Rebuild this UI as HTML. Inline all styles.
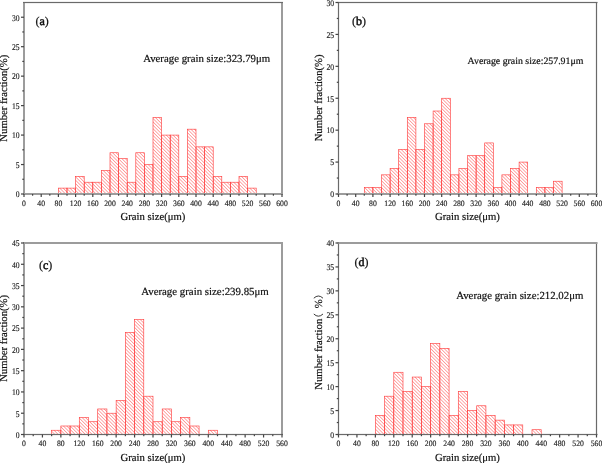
<!DOCTYPE html><html><head><meta charset="utf-8"><style>html,body{margin:0;padding:0;background:#fff;width:602px;height:463px;overflow:hidden}svg{display:block;will-change:transform}text{font-family:"Liberation Serif",serif;text-rendering:geometricPrecision}.m{stroke:#111;stroke-width:0.2px}.t{stroke:#222;stroke-width:0.15px}</style></head><body>
<svg width="602" height="463" viewBox="0 0 602 463">
<defs><pattern id="h" patternUnits="userSpaceOnUse" width="2.4" height="2.4" patternTransform="rotate(-45)"><rect x="0" y="0" width="0.66" height="2.4" fill="#ff8080"/></pattern></defs>
<rect width="602" height="463" fill="#fff"/>
<g><rect x="58.4" y="188.11" width="8.6" height="5.89" fill="url(#h)" stroke="#ff3838" stroke-width="0.62"/><rect x="67" y="188.11" width="8.6" height="5.89" fill="url(#h)" stroke="#ff3838" stroke-width="0.62"/><rect x="75.6" y="176.32" width="8.6" height="17.68" fill="url(#h)" stroke="#ff3838" stroke-width="0.62"/><rect x="84.2" y="182.22" width="8.6" height="11.78" fill="url(#h)" stroke="#ff3838" stroke-width="0.62"/><rect x="92.8" y="182.22" width="8.6" height="11.78" fill="url(#h)" stroke="#ff3838" stroke-width="0.62"/><rect x="101.4" y="170.43" width="8.6" height="23.57" fill="url(#h)" stroke="#ff3838" stroke-width="0.62"/><rect x="110" y="152.75" width="8.6" height="41.25" fill="url(#h)" stroke="#ff3838" stroke-width="0.62"/><rect x="118.6" y="158.65" width="8.6" height="35.35" fill="url(#h)" stroke="#ff3838" stroke-width="0.62"/><rect x="127.2" y="182.22" width="8.6" height="11.78" fill="url(#h)" stroke="#ff3838" stroke-width="0.62"/><rect x="135.8" y="152.75" width="8.6" height="41.25" fill="url(#h)" stroke="#ff3838" stroke-width="0.62"/><rect x="144.4" y="164.54" width="8.6" height="29.46" fill="url(#h)" stroke="#ff3838" stroke-width="0.62"/><rect x="153" y="117.4" width="8.6" height="76.6" fill="url(#h)" stroke="#ff3838" stroke-width="0.62"/><rect x="161.6" y="135.08" width="8.6" height="58.92" fill="url(#h)" stroke="#ff3838" stroke-width="0.62"/><rect x="170.2" y="135.08" width="8.6" height="58.92" fill="url(#h)" stroke="#ff3838" stroke-width="0.62"/><rect x="178.8" y="176.32" width="8.6" height="17.68" fill="url(#h)" stroke="#ff3838" stroke-width="0.62"/><rect x="187.4" y="129.18" width="8.6" height="64.82" fill="url(#h)" stroke="#ff3838" stroke-width="0.62"/><rect x="196" y="146.86" width="8.6" height="47.14" fill="url(#h)" stroke="#ff3838" stroke-width="0.62"/><rect x="204.6" y="146.86" width="8.6" height="47.14" fill="url(#h)" stroke="#ff3838" stroke-width="0.62"/><rect x="213.2" y="176.32" width="8.6" height="17.68" fill="url(#h)" stroke="#ff3838" stroke-width="0.62"/><rect x="221.8" y="182.22" width="8.6" height="11.78" fill="url(#h)" stroke="#ff3838" stroke-width="0.62"/><rect x="230.4" y="182.22" width="8.6" height="11.78" fill="url(#h)" stroke="#ff3838" stroke-width="0.62"/><rect x="239" y="176.32" width="8.6" height="17.68" fill="url(#h)" stroke="#ff3838" stroke-width="0.62"/><rect x="247.6" y="188.11" width="8.6" height="5.89" fill="url(#h)" stroke="#ff3838" stroke-width="0.62"/><rect x="23" y="2" width="2" height="192.5" fill="#9c9c9c"/><rect x="281" y="2" width="2" height="192.5" fill="#9c9c9c"/><rect x="23" y="1.9" width="260" height="1.2" fill="#6a6a6a"/><rect x="23" y="193" width="260" height="2" fill="#9c9c9c"/><rect x="23.4" y="194" width="1.2" height="3" fill="#444"/><text transform="translate(24,206.1) scale(0.94,1)" font-size="8.2" text-anchor="middle" fill="#222" class="t">0</text><rect x="32" y="194" width="1.2" height="1.7" fill="#444"/><rect x="40.6" y="194" width="1.2" height="3" fill="#444"/><text transform="translate(41.2,206.1) scale(0.94,1)" font-size="8.2" text-anchor="middle" fill="#222" class="t">40</text><rect x="49.2" y="194" width="1.2" height="1.7" fill="#444"/><rect x="57.8" y="194" width="1.2" height="3" fill="#444"/><text transform="translate(58.4,206.1) scale(0.94,1)" font-size="8.2" text-anchor="middle" fill="#222" class="t">80</text><rect x="66.4" y="194" width="1.2" height="1.7" fill="#444"/><rect x="75" y="194" width="1.2" height="3" fill="#444"/><text transform="translate(75.6,206.1) scale(0.94,1)" font-size="8.2" text-anchor="middle" fill="#222" class="t">120</text><rect x="83.6" y="194" width="1.2" height="1.7" fill="#444"/><rect x="92.2" y="194" width="1.2" height="3" fill="#444"/><text transform="translate(92.8,206.1) scale(0.94,1)" font-size="8.2" text-anchor="middle" fill="#222" class="t">160</text><rect x="100.8" y="194" width="1.2" height="1.7" fill="#444"/><rect x="109.4" y="194" width="1.2" height="3" fill="#444"/><text transform="translate(110,206.1) scale(0.94,1)" font-size="8.2" text-anchor="middle" fill="#222" class="t">200</text><rect x="118" y="194" width="1.2" height="1.7" fill="#444"/><rect x="126.6" y="194" width="1.2" height="3" fill="#444"/><text transform="translate(127.2,206.1) scale(0.94,1)" font-size="8.2" text-anchor="middle" fill="#222" class="t">240</text><rect x="135.2" y="194" width="1.2" height="1.7" fill="#444"/><rect x="143.8" y="194" width="1.2" height="3" fill="#444"/><text transform="translate(144.4,206.1) scale(0.94,1)" font-size="8.2" text-anchor="middle" fill="#222" class="t">280</text><rect x="152.4" y="194" width="1.2" height="1.7" fill="#444"/><rect x="161" y="194" width="1.2" height="3" fill="#444"/><text transform="translate(161.6,206.1) scale(0.94,1)" font-size="8.2" text-anchor="middle" fill="#222" class="t">320</text><rect x="169.6" y="194" width="1.2" height="1.7" fill="#444"/><rect x="178.2" y="194" width="1.2" height="3" fill="#444"/><text transform="translate(178.8,206.1) scale(0.94,1)" font-size="8.2" text-anchor="middle" fill="#222" class="t">360</text><rect x="186.8" y="194" width="1.2" height="1.7" fill="#444"/><rect x="195.4" y="194" width="1.2" height="3" fill="#444"/><text transform="translate(196,206.1) scale(0.94,1)" font-size="8.2" text-anchor="middle" fill="#222" class="t">400</text><rect x="204" y="194" width="1.2" height="1.7" fill="#444"/><rect x="212.6" y="194" width="1.2" height="3" fill="#444"/><text transform="translate(213.2,206.1) scale(0.94,1)" font-size="8.2" text-anchor="middle" fill="#222" class="t">440</text><rect x="221.2" y="194" width="1.2" height="1.7" fill="#444"/><rect x="229.8" y="194" width="1.2" height="3" fill="#444"/><text transform="translate(230.4,206.1) scale(0.94,1)" font-size="8.2" text-anchor="middle" fill="#222" class="t">480</text><rect x="238.4" y="194" width="1.2" height="1.7" fill="#444"/><rect x="247" y="194" width="1.2" height="3" fill="#444"/><text transform="translate(247.6,206.1) scale(0.94,1)" font-size="8.2" text-anchor="middle" fill="#222" class="t">520</text><rect x="255.6" y="194" width="1.2" height="1.7" fill="#444"/><rect x="264.2" y="194" width="1.2" height="3" fill="#444"/><text transform="translate(264.8,206.1) scale(0.94,1)" font-size="8.2" text-anchor="middle" fill="#222" class="t">560</text><rect x="272.8" y="194" width="1.2" height="1.7" fill="#444"/><rect x="281.4" y="194" width="1.2" height="3" fill="#444"/><text transform="translate(282,206.1) scale(0.94,1)" font-size="8.2" text-anchor="middle" fill="#222" class="t">600</text><rect x="21" y="193.4" width="3" height="1.2" fill="#444"/><text transform="translate(19.6,197.3) scale(0.88,1)" font-size="8.7" text-anchor="end" fill="#222" class="t">0</text><rect x="22.3" y="178.67" width="1.7" height="1.2" fill="#444"/><rect x="21" y="163.94" width="3" height="1.2" fill="#444"/><text transform="translate(19.6,167.84) scale(0.88,1)" font-size="8.7" text-anchor="end" fill="#222" class="t">5</text><rect x="22.3" y="149.21" width="1.7" height="1.2" fill="#444"/><rect x="21" y="134.48" width="3" height="1.2" fill="#444"/><text transform="translate(19.6,138.38) scale(0.88,1)" font-size="8.7" text-anchor="end" fill="#222" class="t">10</text><rect x="22.3" y="119.75" width="1.7" height="1.2" fill="#444"/><rect x="21" y="105.02" width="3" height="1.2" fill="#444"/><text transform="translate(19.6,108.92) scale(0.88,1)" font-size="8.7" text-anchor="end" fill="#222" class="t">15</text><rect x="22.3" y="90.28" width="1.7" height="1.2" fill="#444"/><rect x="21" y="75.55" width="3" height="1.2" fill="#444"/><text transform="translate(19.6,79.45) scale(0.88,1)" font-size="8.7" text-anchor="end" fill="#222" class="t">20</text><rect x="22.3" y="60.82" width="1.7" height="1.2" fill="#444"/><rect x="21" y="46.09" width="3" height="1.2" fill="#444"/><text transform="translate(19.6,49.99) scale(0.88,1)" font-size="8.7" text-anchor="end" fill="#222" class="t">25</text><rect x="22.3" y="31.36" width="1.7" height="1.2" fill="#444"/><rect x="21" y="16.63" width="3" height="1.2" fill="#444"/><text transform="translate(19.6,20.53) scale(0.88,1)" font-size="8.7" text-anchor="end" fill="#222" class="t">30</text><text x="35.5" y="24.75" font-size="12" fill="#111" class="m">(<tspan style="stroke-width:0.5px">a</tspan>)</text><text x="143.2" y="61.5" font-size="10.8" fill="#111" class="m">Average grain size:323.79μm</text><text x="153" y="220.1" font-size="10.7" text-anchor="middle" fill="#111" class="m">Grain size(μm)</text><text transform="translate(6.9,98.2) rotate(-90)" x="0" y="0" font-size="10.7" text-anchor="middle" fill="#111" class="m">Number fraction(%)</text></g>
<g><rect x="364.3" y="187.62" width="8.6" height="6.38" fill="url(#h)" stroke="#ff3838" stroke-width="0.62"/><rect x="372.9" y="187.62" width="8.6" height="6.38" fill="url(#h)" stroke="#ff3838" stroke-width="0.62"/><rect x="381.5" y="174.85" width="8.6" height="19.15" fill="url(#h)" stroke="#ff3838" stroke-width="0.62"/><rect x="390.1" y="168.47" width="8.6" height="25.53" fill="url(#h)" stroke="#ff3838" stroke-width="0.62"/><rect x="398.7" y="149.32" width="8.6" height="44.68" fill="url(#h)" stroke="#ff3838" stroke-width="0.62"/><rect x="407.3" y="117.4" width="8.6" height="76.6" fill="url(#h)" stroke="#ff3838" stroke-width="0.62"/><rect x="415.9" y="149.32" width="8.6" height="44.68" fill="url(#h)" stroke="#ff3838" stroke-width="0.62"/><rect x="424.5" y="123.78" width="8.6" height="70.22" fill="url(#h)" stroke="#ff3838" stroke-width="0.62"/><rect x="433.1" y="111.02" width="8.6" height="82.98" fill="url(#h)" stroke="#ff3838" stroke-width="0.62"/><rect x="441.7" y="98.25" width="8.6" height="95.75" fill="url(#h)" stroke="#ff3838" stroke-width="0.62"/><rect x="450.3" y="174.85" width="8.6" height="19.15" fill="url(#h)" stroke="#ff3838" stroke-width="0.62"/><rect x="458.9" y="168.47" width="8.6" height="25.53" fill="url(#h)" stroke="#ff3838" stroke-width="0.62"/><rect x="467.5" y="155.7" width="8.6" height="38.3" fill="url(#h)" stroke="#ff3838" stroke-width="0.62"/><rect x="476.1" y="155.7" width="8.6" height="38.3" fill="url(#h)" stroke="#ff3838" stroke-width="0.62"/><rect x="484.7" y="142.93" width="8.6" height="51.07" fill="url(#h)" stroke="#ff3838" stroke-width="0.62"/><rect x="493.3" y="187.62" width="8.6" height="6.38" fill="url(#h)" stroke="#ff3838" stroke-width="0.62"/><rect x="501.9" y="174.85" width="8.6" height="19.15" fill="url(#h)" stroke="#ff3838" stroke-width="0.62"/><rect x="510.5" y="168.47" width="8.6" height="25.53" fill="url(#h)" stroke="#ff3838" stroke-width="0.62"/><rect x="519.1" y="162.08" width="8.6" height="31.92" fill="url(#h)" stroke="#ff3838" stroke-width="0.62"/><rect x="536.3" y="187.62" width="8.6" height="6.38" fill="url(#h)" stroke="#ff3838" stroke-width="0.62"/><rect x="544.9" y="187.62" width="8.6" height="6.38" fill="url(#h)" stroke="#ff3838" stroke-width="0.62"/><rect x="553.5" y="181.23" width="8.6" height="12.77" fill="url(#h)" stroke="#ff3838" stroke-width="0.62"/><rect x="337.9" y="2" width="1.2" height="192.5" fill="#6a6a6a"/><rect x="595.9" y="2" width="1.2" height="192.5" fill="#6a6a6a"/><rect x="337.5" y="1.9" width="260" height="1.2" fill="#6a6a6a"/><rect x="337.5" y="193" width="260" height="2" fill="#9c9c9c"/><rect x="337.9" y="194" width="1.2" height="3" fill="#444"/><text transform="translate(338.5,206.1) scale(0.94,1)" font-size="8.2" text-anchor="middle" fill="#222" class="t">0</text><rect x="346.5" y="194" width="1.2" height="1.7" fill="#444"/><rect x="355.1" y="194" width="1.2" height="3" fill="#444"/><text transform="translate(355.7,206.1) scale(0.94,1)" font-size="8.2" text-anchor="middle" fill="#222" class="t">40</text><rect x="363.7" y="194" width="1.2" height="1.7" fill="#444"/><rect x="372.3" y="194" width="1.2" height="3" fill="#444"/><text transform="translate(372.9,206.1) scale(0.94,1)" font-size="8.2" text-anchor="middle" fill="#222" class="t">80</text><rect x="380.9" y="194" width="1.2" height="1.7" fill="#444"/><rect x="389.5" y="194" width="1.2" height="3" fill="#444"/><text transform="translate(390.1,206.1) scale(0.94,1)" font-size="8.2" text-anchor="middle" fill="#222" class="t">120</text><rect x="398.1" y="194" width="1.2" height="1.7" fill="#444"/><rect x="406.7" y="194" width="1.2" height="3" fill="#444"/><text transform="translate(407.3,206.1) scale(0.94,1)" font-size="8.2" text-anchor="middle" fill="#222" class="t">160</text><rect x="415.3" y="194" width="1.2" height="1.7" fill="#444"/><rect x="423.9" y="194" width="1.2" height="3" fill="#444"/><text transform="translate(424.5,206.1) scale(0.94,1)" font-size="8.2" text-anchor="middle" fill="#222" class="t">200</text><rect x="432.5" y="194" width="1.2" height="1.7" fill="#444"/><rect x="441.1" y="194" width="1.2" height="3" fill="#444"/><text transform="translate(441.7,206.1) scale(0.94,1)" font-size="8.2" text-anchor="middle" fill="#222" class="t">240</text><rect x="449.7" y="194" width="1.2" height="1.7" fill="#444"/><rect x="458.3" y="194" width="1.2" height="3" fill="#444"/><text transform="translate(458.9,206.1) scale(0.94,1)" font-size="8.2" text-anchor="middle" fill="#222" class="t">280</text><rect x="466.9" y="194" width="1.2" height="1.7" fill="#444"/><rect x="475.5" y="194" width="1.2" height="3" fill="#444"/><text transform="translate(476.1,206.1) scale(0.94,1)" font-size="8.2" text-anchor="middle" fill="#222" class="t">320</text><rect x="484.1" y="194" width="1.2" height="1.7" fill="#444"/><rect x="492.7" y="194" width="1.2" height="3" fill="#444"/><text transform="translate(493.3,206.1) scale(0.94,1)" font-size="8.2" text-anchor="middle" fill="#222" class="t">360</text><rect x="501.3" y="194" width="1.2" height="1.7" fill="#444"/><rect x="509.9" y="194" width="1.2" height="3" fill="#444"/><text transform="translate(510.5,206.1) scale(0.94,1)" font-size="8.2" text-anchor="middle" fill="#222" class="t">400</text><rect x="518.5" y="194" width="1.2" height="1.7" fill="#444"/><rect x="527.1" y="194" width="1.2" height="3" fill="#444"/><text transform="translate(527.7,206.1) scale(0.94,1)" font-size="8.2" text-anchor="middle" fill="#222" class="t">440</text><rect x="535.7" y="194" width="1.2" height="1.7" fill="#444"/><rect x="544.3" y="194" width="1.2" height="3" fill="#444"/><text transform="translate(544.9,206.1) scale(0.94,1)" font-size="8.2" text-anchor="middle" fill="#222" class="t">480</text><rect x="552.9" y="194" width="1.2" height="1.7" fill="#444"/><rect x="561.5" y="194" width="1.2" height="3" fill="#444"/><text transform="translate(562.1,206.1) scale(0.94,1)" font-size="8.2" text-anchor="middle" fill="#222" class="t">520</text><rect x="570.1" y="194" width="1.2" height="1.7" fill="#444"/><rect x="578.7" y="194" width="1.2" height="3" fill="#444"/><text transform="translate(579.3,206.1) scale(0.94,1)" font-size="8.2" text-anchor="middle" fill="#222" class="t">560</text><rect x="587.3" y="194" width="1.2" height="1.7" fill="#444"/><rect x="595.9" y="194" width="1.2" height="3" fill="#444"/><text transform="translate(596.5,206.1) scale(0.94,1)" font-size="8.2" text-anchor="middle" fill="#222" class="t">600</text><rect x="335.5" y="193.4" width="3" height="1.2" fill="#444"/><text transform="translate(334.1,197.3) scale(0.88,1)" font-size="8.7" text-anchor="end" fill="#222" class="t">0</text><rect x="336.8" y="177.44" width="1.7" height="1.2" fill="#444"/><rect x="335.5" y="161.48" width="3" height="1.2" fill="#444"/><text transform="translate(334.1,165.38) scale(0.88,1)" font-size="8.7" text-anchor="end" fill="#222" class="t">5</text><rect x="336.8" y="145.53" width="1.7" height="1.2" fill="#444"/><rect x="335.5" y="129.57" width="3" height="1.2" fill="#444"/><text transform="translate(334.1,133.47) scale(0.88,1)" font-size="8.7" text-anchor="end" fill="#222" class="t">10</text><rect x="336.8" y="113.61" width="1.7" height="1.2" fill="#444"/><rect x="335.5" y="97.65" width="3" height="1.2" fill="#444"/><text transform="translate(334.1,101.55) scale(0.88,1)" font-size="8.7" text-anchor="end" fill="#222" class="t">15</text><rect x="336.8" y="81.69" width="1.7" height="1.2" fill="#444"/><rect x="335.5" y="65.73" width="3" height="1.2" fill="#444"/><text transform="translate(334.1,69.63) scale(0.88,1)" font-size="8.7" text-anchor="end" fill="#222" class="t">20</text><rect x="336.8" y="49.77" width="1.7" height="1.2" fill="#444"/><rect x="335.5" y="33.82" width="3" height="1.2" fill="#444"/><text transform="translate(334.1,37.72) scale(0.88,1)" font-size="8.7" text-anchor="end" fill="#222" class="t">25</text><rect x="336.8" y="17.86" width="1.7" height="1.2" fill="#444"/><rect x="335.5" y="1.9" width="3" height="1.2" fill="#444"/><text transform="translate(334.1,5.8) scale(0.88,1)" font-size="8.7" text-anchor="end" fill="#222" class="t">30</text><text x="352" y="24.75" font-size="12" fill="#111" class="m">(<tspan style="stroke-width:0.5px">b</tspan>)</text><text x="467.6" y="63.7" font-size="9.86" fill="#111" class="m">Average grain size:257.91μm</text><text x="467.5" y="219.7" font-size="10.7" text-anchor="middle" fill="#111" class="m">Grain size(μm)</text><text transform="translate(321.6,97.9) rotate(-90)" x="0" y="0" font-size="10.7" text-anchor="middle" fill="#111" class="m">Number fraction(%)</text></g>
<g><rect x="51.64" y="430.24" width="9.21" height="4.26" fill="url(#h)" stroke="#ff3838" stroke-width="0.62"/><rect x="60.86" y="425.99" width="9.21" height="8.51" fill="url(#h)" stroke="#ff3838" stroke-width="0.62"/><rect x="70.07" y="425.99" width="9.21" height="8.51" fill="url(#h)" stroke="#ff3838" stroke-width="0.62"/><rect x="79.29" y="417.48" width="9.21" height="17.02" fill="url(#h)" stroke="#ff3838" stroke-width="0.62"/><rect x="88.5" y="421.73" width="9.21" height="12.77" fill="url(#h)" stroke="#ff3838" stroke-width="0.62"/><rect x="97.71" y="408.97" width="9.21" height="25.53" fill="url(#h)" stroke="#ff3838" stroke-width="0.62"/><rect x="106.93" y="413.22" width="9.21" height="21.28" fill="url(#h)" stroke="#ff3838" stroke-width="0.62"/><rect x="116.14" y="400.46" width="9.21" height="34.04" fill="url(#h)" stroke="#ff3838" stroke-width="0.62"/><rect x="125.36" y="332.37" width="9.21" height="102.13" fill="url(#h)" stroke="#ff3838" stroke-width="0.62"/><rect x="134.57" y="319.6" width="9.21" height="114.9" fill="url(#h)" stroke="#ff3838" stroke-width="0.62"/><rect x="143.79" y="396.2" width="9.21" height="38.3" fill="url(#h)" stroke="#ff3838" stroke-width="0.62"/><rect x="153" y="421.73" width="9.21" height="12.77" fill="url(#h)" stroke="#ff3838" stroke-width="0.62"/><rect x="162.21" y="408.97" width="9.21" height="25.53" fill="url(#h)" stroke="#ff3838" stroke-width="0.62"/><rect x="171.43" y="421.73" width="9.21" height="12.77" fill="url(#h)" stroke="#ff3838" stroke-width="0.62"/><rect x="180.64" y="417.48" width="9.21" height="17.02" fill="url(#h)" stroke="#ff3838" stroke-width="0.62"/><rect x="189.86" y="425.99" width="9.21" height="8.51" fill="url(#h)" stroke="#ff3838" stroke-width="0.62"/><rect x="208.29" y="430.24" width="9.21" height="4.26" fill="url(#h)" stroke="#ff3838" stroke-width="0.62"/><rect x="23" y="242.5" width="2" height="192.5" fill="#9c9c9c"/><rect x="281" y="242.5" width="2" height="192.5" fill="#9c9c9c"/><rect x="23" y="242" width="260" height="2" fill="#9c9c9c"/><rect x="23" y="433.9" width="260" height="1.2" fill="#6a6a6a"/><rect x="23.4" y="434.5" width="1.2" height="3" fill="#444"/><text transform="translate(24,445.9) scale(0.94,1)" font-size="8.2" text-anchor="middle" fill="#222" class="t">0</text><rect x="32.61" y="434.5" width="1.2" height="1.7" fill="#444"/><rect x="41.83" y="434.5" width="1.2" height="3" fill="#444"/><text transform="translate(42.43,445.9) scale(0.94,1)" font-size="8.2" text-anchor="middle" fill="#222" class="t">40</text><rect x="51.04" y="434.5" width="1.2" height="1.7" fill="#444"/><rect x="60.26" y="434.5" width="1.2" height="3" fill="#444"/><text transform="translate(60.86,445.9) scale(0.94,1)" font-size="8.2" text-anchor="middle" fill="#222" class="t">80</text><rect x="69.47" y="434.5" width="1.2" height="1.7" fill="#444"/><rect x="78.69" y="434.5" width="1.2" height="3" fill="#444"/><text transform="translate(79.29,445.9) scale(0.94,1)" font-size="8.2" text-anchor="middle" fill="#222" class="t">120</text><rect x="87.9" y="434.5" width="1.2" height="1.7" fill="#444"/><rect x="97.11" y="434.5" width="1.2" height="3" fill="#444"/><text transform="translate(97.71,445.9) scale(0.94,1)" font-size="8.2" text-anchor="middle" fill="#222" class="t">160</text><rect x="106.33" y="434.5" width="1.2" height="1.7" fill="#444"/><rect x="115.54" y="434.5" width="1.2" height="3" fill="#444"/><text transform="translate(116.14,445.9) scale(0.94,1)" font-size="8.2" text-anchor="middle" fill="#222" class="t">200</text><rect x="124.76" y="434.5" width="1.2" height="1.7" fill="#444"/><rect x="133.97" y="434.5" width="1.2" height="3" fill="#444"/><text transform="translate(134.57,445.9) scale(0.94,1)" font-size="8.2" text-anchor="middle" fill="#222" class="t">240</text><rect x="143.19" y="434.5" width="1.2" height="1.7" fill="#444"/><rect x="152.4" y="434.5" width="1.2" height="3" fill="#444"/><text transform="translate(153,445.9) scale(0.94,1)" font-size="8.2" text-anchor="middle" fill="#222" class="t">280</text><rect x="161.61" y="434.5" width="1.2" height="1.7" fill="#444"/><rect x="170.83" y="434.5" width="1.2" height="3" fill="#444"/><text transform="translate(171.43,445.9) scale(0.94,1)" font-size="8.2" text-anchor="middle" fill="#222" class="t">320</text><rect x="180.04" y="434.5" width="1.2" height="1.7" fill="#444"/><rect x="189.26" y="434.5" width="1.2" height="3" fill="#444"/><text transform="translate(189.86,445.9) scale(0.94,1)" font-size="8.2" text-anchor="middle" fill="#222" class="t">360</text><rect x="198.47" y="434.5" width="1.2" height="1.7" fill="#444"/><rect x="207.69" y="434.5" width="1.2" height="3" fill="#444"/><text transform="translate(208.29,445.9) scale(0.94,1)" font-size="8.2" text-anchor="middle" fill="#222" class="t">400</text><rect x="216.9" y="434.5" width="1.2" height="1.7" fill="#444"/><rect x="226.11" y="434.5" width="1.2" height="3" fill="#444"/><text transform="translate(226.71,445.9) scale(0.94,1)" font-size="8.2" text-anchor="middle" fill="#222" class="t">440</text><rect x="235.33" y="434.5" width="1.2" height="1.7" fill="#444"/><rect x="244.54" y="434.5" width="1.2" height="3" fill="#444"/><text transform="translate(245.14,445.9) scale(0.94,1)" font-size="8.2" text-anchor="middle" fill="#222" class="t">480</text><rect x="253.76" y="434.5" width="1.2" height="1.7" fill="#444"/><rect x="262.97" y="434.5" width="1.2" height="3" fill="#444"/><text transform="translate(263.57,445.9) scale(0.94,1)" font-size="8.2" text-anchor="middle" fill="#222" class="t">520</text><rect x="272.19" y="434.5" width="1.2" height="1.7" fill="#444"/><rect x="281.4" y="434.5" width="1.2" height="3" fill="#444"/><text transform="translate(282,445.9) scale(0.94,1)" font-size="8.2" text-anchor="middle" fill="#222" class="t">560</text><rect x="21" y="433.9" width="3" height="1.2" fill="#444"/><text transform="translate(19.6,437.8) scale(0.88,1)" font-size="8.7" text-anchor="end" fill="#222" class="t">0</text><rect x="22.3" y="423.26" width="1.7" height="1.2" fill="#444"/><rect x="21" y="412.62" width="3" height="1.2" fill="#444"/><text transform="translate(19.6,416.52) scale(0.88,1)" font-size="8.7" text-anchor="end" fill="#222" class="t">5</text><rect x="22.3" y="401.98" width="1.7" height="1.2" fill="#444"/><rect x="21" y="391.34" width="3" height="1.2" fill="#444"/><text transform="translate(19.6,395.24) scale(0.88,1)" font-size="8.7" text-anchor="end" fill="#222" class="t">10</text><rect x="22.3" y="380.71" width="1.7" height="1.2" fill="#444"/><rect x="21" y="370.07" width="3" height="1.2" fill="#444"/><text transform="translate(19.6,373.97) scale(0.88,1)" font-size="8.7" text-anchor="end" fill="#222" class="t">15</text><rect x="22.3" y="359.43" width="1.7" height="1.2" fill="#444"/><rect x="21" y="348.79" width="3" height="1.2" fill="#444"/><text transform="translate(19.6,352.69) scale(0.88,1)" font-size="8.7" text-anchor="end" fill="#222" class="t">20</text><rect x="22.3" y="338.15" width="1.7" height="1.2" fill="#444"/><rect x="21" y="327.51" width="3" height="1.2" fill="#444"/><text transform="translate(19.6,331.41) scale(0.88,1)" font-size="8.7" text-anchor="end" fill="#222" class="t">25</text><rect x="22.3" y="316.87" width="1.7" height="1.2" fill="#444"/><rect x="21" y="306.23" width="3" height="1.2" fill="#444"/><text transform="translate(19.6,310.13) scale(0.88,1)" font-size="8.7" text-anchor="end" fill="#222" class="t">30</text><rect x="22.3" y="295.59" width="1.7" height="1.2" fill="#444"/><rect x="21" y="284.96" width="3" height="1.2" fill="#444"/><text transform="translate(19.6,288.86) scale(0.88,1)" font-size="8.7" text-anchor="end" fill="#222" class="t">35</text><rect x="22.3" y="274.32" width="1.7" height="1.2" fill="#444"/><rect x="21" y="263.68" width="3" height="1.2" fill="#444"/><text transform="translate(19.6,267.58) scale(0.88,1)" font-size="8.7" text-anchor="end" fill="#222" class="t">40</text><rect x="22.3" y="253.04" width="1.7" height="1.2" fill="#444"/><rect x="21" y="242.4" width="3" height="1.2" fill="#444"/><text transform="translate(19.6,246.3) scale(0.88,1)" font-size="8.7" text-anchor="end" fill="#222" class="t">45</text><text x="38.9" y="268.7" font-size="12" fill="#111" class="m">(<tspan style="stroke-width:0.5px">c</tspan>)</text><text x="141.2" y="295.2" font-size="10.85" fill="#111" class="m">Average grain size:239.85μm</text><text x="153" y="460.9" font-size="10.7" text-anchor="middle" fill="#111" class="m">Grain size(μm)</text><text transform="translate(6.9,338.4) rotate(-90)" x="0" y="0" font-size="10.7" text-anchor="middle" fill="#111" class="m">Number fraction(%)</text></g>
<g><rect x="375.36" y="415.35" width="9.21" height="19.15" fill="url(#h)" stroke="#ff3838" stroke-width="0.62"/><rect x="384.57" y="396.2" width="9.21" height="38.3" fill="url(#h)" stroke="#ff3838" stroke-width="0.62"/><rect x="393.79" y="372.26" width="9.21" height="62.24" fill="url(#h)" stroke="#ff3838" stroke-width="0.62"/><rect x="403" y="391.41" width="9.21" height="43.09" fill="url(#h)" stroke="#ff3838" stroke-width="0.62"/><rect x="412.21" y="377.05" width="9.21" height="57.45" fill="url(#h)" stroke="#ff3838" stroke-width="0.62"/><rect x="421.43" y="386.62" width="9.21" height="47.88" fill="url(#h)" stroke="#ff3838" stroke-width="0.62"/><rect x="430.64" y="343.54" width="9.21" height="90.96" fill="url(#h)" stroke="#ff3838" stroke-width="0.62"/><rect x="439.86" y="348.32" width="9.21" height="86.17" fill="url(#h)" stroke="#ff3838" stroke-width="0.62"/><rect x="449.07" y="415.35" width="9.21" height="19.15" fill="url(#h)" stroke="#ff3838" stroke-width="0.62"/><rect x="458.29" y="391.41" width="9.21" height="43.09" fill="url(#h)" stroke="#ff3838" stroke-width="0.62"/><rect x="467.5" y="410.56" width="9.21" height="23.94" fill="url(#h)" stroke="#ff3838" stroke-width="0.62"/><rect x="476.71" y="405.77" width="9.21" height="28.72" fill="url(#h)" stroke="#ff3838" stroke-width="0.62"/><rect x="485.93" y="415.35" width="9.21" height="19.15" fill="url(#h)" stroke="#ff3838" stroke-width="0.62"/><rect x="495.14" y="420.14" width="9.21" height="14.36" fill="url(#h)" stroke="#ff3838" stroke-width="0.62"/><rect x="504.36" y="424.93" width="9.21" height="9.57" fill="url(#h)" stroke="#ff3838" stroke-width="0.62"/><rect x="513.57" y="424.93" width="9.21" height="9.57" fill="url(#h)" stroke="#ff3838" stroke-width="0.62"/><rect x="532" y="429.71" width="9.21" height="4.79" fill="url(#h)" stroke="#ff3838" stroke-width="0.62"/><rect x="337.9" y="242.5" width="1.2" height="192.5" fill="#6a6a6a"/><rect x="595.9" y="242.5" width="1.2" height="192.5" fill="#6a6a6a"/><rect x="337.5" y="242" width="260" height="2" fill="#9c9c9c"/><rect x="337.5" y="433.9" width="260" height="1.2" fill="#6a6a6a"/><rect x="337.9" y="434.5" width="1.2" height="3" fill="#444"/><text transform="translate(338.5,445.9) scale(0.94,1)" font-size="8.2" text-anchor="middle" fill="#222" class="t">0</text><rect x="347.11" y="434.5" width="1.2" height="1.7" fill="#444"/><rect x="356.33" y="434.5" width="1.2" height="3" fill="#444"/><text transform="translate(356.93,445.9) scale(0.94,1)" font-size="8.2" text-anchor="middle" fill="#222" class="t">40</text><rect x="365.54" y="434.5" width="1.2" height="1.7" fill="#444"/><rect x="374.76" y="434.5" width="1.2" height="3" fill="#444"/><text transform="translate(375.36,445.9) scale(0.94,1)" font-size="8.2" text-anchor="middle" fill="#222" class="t">80</text><rect x="383.97" y="434.5" width="1.2" height="1.7" fill="#444"/><rect x="393.19" y="434.5" width="1.2" height="3" fill="#444"/><text transform="translate(393.79,445.9) scale(0.94,1)" font-size="8.2" text-anchor="middle" fill="#222" class="t">120</text><rect x="402.4" y="434.5" width="1.2" height="1.7" fill="#444"/><rect x="411.61" y="434.5" width="1.2" height="3" fill="#444"/><text transform="translate(412.21,445.9) scale(0.94,1)" font-size="8.2" text-anchor="middle" fill="#222" class="t">160</text><rect x="420.83" y="434.5" width="1.2" height="1.7" fill="#444"/><rect x="430.04" y="434.5" width="1.2" height="3" fill="#444"/><text transform="translate(430.64,445.9) scale(0.94,1)" font-size="8.2" text-anchor="middle" fill="#222" class="t">200</text><rect x="439.26" y="434.5" width="1.2" height="1.7" fill="#444"/><rect x="448.47" y="434.5" width="1.2" height="3" fill="#444"/><text transform="translate(449.07,445.9) scale(0.94,1)" font-size="8.2" text-anchor="middle" fill="#222" class="t">240</text><rect x="457.69" y="434.5" width="1.2" height="1.7" fill="#444"/><rect x="466.9" y="434.5" width="1.2" height="3" fill="#444"/><text transform="translate(467.5,445.9) scale(0.94,1)" font-size="8.2" text-anchor="middle" fill="#222" class="t">280</text><rect x="476.11" y="434.5" width="1.2" height="1.7" fill="#444"/><rect x="485.33" y="434.5" width="1.2" height="3" fill="#444"/><text transform="translate(485.93,445.9) scale(0.94,1)" font-size="8.2" text-anchor="middle" fill="#222" class="t">320</text><rect x="494.54" y="434.5" width="1.2" height="1.7" fill="#444"/><rect x="503.76" y="434.5" width="1.2" height="3" fill="#444"/><text transform="translate(504.36,445.9) scale(0.94,1)" font-size="8.2" text-anchor="middle" fill="#222" class="t">360</text><rect x="512.97" y="434.5" width="1.2" height="1.7" fill="#444"/><rect x="522.19" y="434.5" width="1.2" height="3" fill="#444"/><text transform="translate(522.79,445.9) scale(0.94,1)" font-size="8.2" text-anchor="middle" fill="#222" class="t">400</text><rect x="531.4" y="434.5" width="1.2" height="1.7" fill="#444"/><rect x="540.61" y="434.5" width="1.2" height="3" fill="#444"/><text transform="translate(541.21,445.9) scale(0.94,1)" font-size="8.2" text-anchor="middle" fill="#222" class="t">440</text><rect x="549.83" y="434.5" width="1.2" height="1.7" fill="#444"/><rect x="559.04" y="434.5" width="1.2" height="3" fill="#444"/><text transform="translate(559.64,445.9) scale(0.94,1)" font-size="8.2" text-anchor="middle" fill="#222" class="t">480</text><rect x="568.26" y="434.5" width="1.2" height="1.7" fill="#444"/><rect x="577.47" y="434.5" width="1.2" height="3" fill="#444"/><text transform="translate(578.07,445.9) scale(0.94,1)" font-size="8.2" text-anchor="middle" fill="#222" class="t">520</text><rect x="586.69" y="434.5" width="1.2" height="1.7" fill="#444"/><rect x="595.9" y="434.5" width="1.2" height="3" fill="#444"/><text transform="translate(596.5,445.9) scale(0.94,1)" font-size="8.2" text-anchor="middle" fill="#222" class="t">560</text><rect x="335.5" y="433.9" width="3" height="1.2" fill="#444"/><text transform="translate(334.1,437.8) scale(0.88,1)" font-size="8.7" text-anchor="end" fill="#222" class="t">0</text><rect x="336.8" y="421.93" width="1.7" height="1.2" fill="#444"/><rect x="335.5" y="409.96" width="3" height="1.2" fill="#444"/><text transform="translate(334.1,413.86) scale(0.88,1)" font-size="8.7" text-anchor="end" fill="#222" class="t">5</text><rect x="336.8" y="397.99" width="1.7" height="1.2" fill="#444"/><rect x="335.5" y="386.02" width="3" height="1.2" fill="#444"/><text transform="translate(334.1,389.93) scale(0.88,1)" font-size="8.7" text-anchor="end" fill="#222" class="t">10</text><rect x="336.8" y="374.06" width="1.7" height="1.2" fill="#444"/><rect x="335.5" y="362.09" width="3" height="1.2" fill="#444"/><text transform="translate(334.1,365.99) scale(0.88,1)" font-size="8.7" text-anchor="end" fill="#222" class="t">15</text><rect x="336.8" y="350.12" width="1.7" height="1.2" fill="#444"/><rect x="335.5" y="338.15" width="3" height="1.2" fill="#444"/><text transform="translate(334.1,342.05) scale(0.88,1)" font-size="8.7" text-anchor="end" fill="#222" class="t">20</text><rect x="336.8" y="326.18" width="1.7" height="1.2" fill="#444"/><rect x="335.5" y="314.21" width="3" height="1.2" fill="#444"/><text transform="translate(334.1,318.11) scale(0.88,1)" font-size="8.7" text-anchor="end" fill="#222" class="t">25</text><rect x="336.8" y="302.24" width="1.7" height="1.2" fill="#444"/><rect x="335.5" y="290.27" width="3" height="1.2" fill="#444"/><text transform="translate(334.1,294.18) scale(0.88,1)" font-size="8.7" text-anchor="end" fill="#222" class="t">30</text><rect x="336.8" y="278.31" width="1.7" height="1.2" fill="#444"/><rect x="335.5" y="266.34" width="3" height="1.2" fill="#444"/><text transform="translate(334.1,270.24) scale(0.88,1)" font-size="8.7" text-anchor="end" fill="#222" class="t">35</text><rect x="336.8" y="254.37" width="1.7" height="1.2" fill="#444"/><rect x="335.5" y="242.4" width="3" height="1.2" fill="#444"/><text transform="translate(334.1,246.3) scale(0.88,1)" font-size="8.7" text-anchor="end" fill="#222" class="t">40</text><text x="354.5" y="265.7" font-size="12" fill="#111" class="m">(<tspan style="stroke-width:0.5px">d</tspan>)</text><text x="456.2" y="298.5" font-size="10.82" fill="#111" class="m">Average grain size:212.02μm</text><text x="467.5" y="460.5" font-size="10.7" text-anchor="middle" fill="#111" class="m">Grain size(μm)</text><text transform="translate(322.4,319) rotate(-90)" x="-70.7" y="0" font-size="10.7" text-anchor="start" fill="#111" class="m" style="text-anchor:start">Number fraction</text><path d="M313.8 314 Q318.4 318.4 323 314" fill="none" stroke="#222" stroke-width="0.9"/><path d="M313.8 298.2 Q318.4 293.8 323 298.2" fill="none" stroke="#222" stroke-width="0.9"/><text transform="translate(322.3,303.7) rotate(-90)" x="0" y="0" font-size="10.7" text-anchor="middle" fill="#111" class="m">%</text></g>
</svg></body></html>
